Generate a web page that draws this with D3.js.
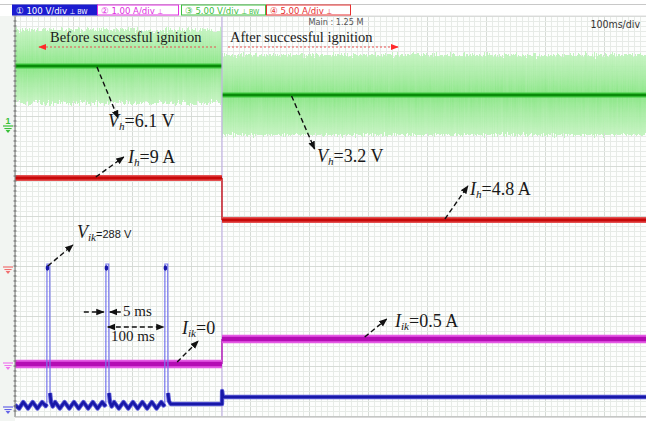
<!DOCTYPE html>
<html><head><meta charset="utf-8">
<script src="https://cdn.jsdelivr.net/npm/d3@7"></script>
<style>
html,body{margin:0;padding:0;background:#fff;}
svg{display:block;}
</style></head><body>
<svg id="scope" width="646" height="421"></svg>
<script>
// ---- scope settings and readings ----
const channelTags = ["\u2460 100 V/div", "\u2461 1.00 A/div", "\u2462 5.00 V/div", "\u2463 5.00 A/div"];
const channelSuffix = ["\u22A5 BW", "\u22A5", "\u22A5 BW", "\u22A5"];
const phaseLabels = ["Before successful ignition", "After successful ignition"];
const sweepInfo = ["Main : 1.25 M", "100ms/div"];

const ignitionTime = 351;            // ms, discharge established
const sweepEnd = 1070;               // ms visible on screen
const vhLevel = [6.1, 3.2];          // heater voltage, V (CH3)
const vhRippleLow = [2.4, -0.8];     // ripple envelope, V
const vhRippleHigh = [9.7, 7.2];     // ripple envelope, V
const ihLevel = [9, 4.8];            // heater current, A (CH4)
const iikLevel = [0, 0.5];           // keeper current, A (CH2)
const vikPeak = 288;                 // keeper pulse peak, V (CH1)
const pulseTimes = [54, 154, 254];   // ms
const pulseWidth = 5;                // ms
const pulsePeriod = 100;             // ms

// keeper voltage, CH1 [ms, V]
const vikTrace = [
  [0, 6], [7, -1], [14, 12], [22, -1], [30, 12], [38, -1], [46, 12], [52, 4],
  [54, 8], [54.2, 288], [59, 288], [59.4, 30], [61, 12], [64, 3],
  [68, 12], [76, -1], [84, 12], [92, -1], [100, 12], [108, -1], [116, 12],
  [124, -1], [132, 12], [140, -1], [148, 12], [152, 5],
  [154, 8], [154.2, 288], [159, 288], [159.4, 30], [161, 12], [164, 3],
  [168, 12], [176, -1], [184, 12], [192, -1], [200, 12], [208, -1], [216, 12],
  [224, -1], [232, 12], [240, -1], [248, 12], [252, 5],
  [254, 8], [254.2, 288], [259, 288], [259.4, 30], [261, 14], [264, 8],
  [351, 8], [351.2, 34], [352.5, 22], [1070, 22]
];

// ---- layout ----
const W = 646, H = 421;
const plot = {left: 15, right: 646, top: 16, bottom: 416};
const svg = d3.select("#scope");

const x = d3.scaleLinear().domain([0, sweepEnd]).range([plot.left, plot.right]);
const divY = d3.scaleLinear().domain([4, -4]).range([plot.top, plot.bottom]);
// each channel: volts (amps) per division and ground marker position in divisions
function channelScale(perDiv, groundDiv) {
  return d3.scaleLinear()
    .domain([-(4 + groundDiv) * perDiv, (4 - groundDiv) * perDiv])
    .range([plot.bottom, plot.top]);
}
const yVik = channelScale(100, -3.84);
const yIik = channelScale(1, -2.96);
const yVh  = channelScale(5, 1.78);
const yIh  = channelScale(5, -1.04);

const defs = svg.append("defs");

// backgrounds
svg.append("rect").attr("width", W).attr("height", H).attr("fill", "#ffffff");
svg.append("rect").attr("x", 0).attr("y", plot.top).attr("width", plot.left).attr("height", H - plot.top)
  .attr("fill", "#f2f5f2");
svg.append("rect").attr("x", plot.left).attr("y", plot.top)
  .attr("width", plot.right - plot.left).attr("height", plot.bottom - plot.top).attr("fill", "#fdfefd");

// graticule
const grid = svg.append("g");
d3.range(0, sweepEnd + 1, 10).forEach(t => {
  const major = t % 100 === 0;
  grid.append("line").attr("x1", x(t)).attr("x2", x(t)).attr("y1", plot.top).attr("y2", plot.bottom)
    .attr("stroke", major ? "#d6dbd6" : "#e7ebe7").attr("stroke-width", 1).attr("shape-rendering", "crispEdges");
});
d3.range(-40, 41, 1).forEach(k => {
  const d = k / 10;
  grid.append("line").attr("x1", plot.left).attr("x2", plot.right).attr("y1", divY(d)).attr("y2", divY(d))
    .attr("stroke", k % 10 === 0 ? "#d6dbd6" : "#e7ebe7").attr("stroke-width", 1).attr("shape-rendering", "crispEdges");
});

// ---- CH3 heater voltage with ripple band ----
const band = defs.append("linearGradient").attr("id", "bandFill").attr("x1", 0).attr("x2", 0).attr("y1", 0).attr("y2", 1);
[[0, "#c4f4c0"], [0.3, "#a4eca0"], [0.5, "#88e684"], [0.7, "#a4eca0"], [1, "#c4f4c0"]]
  .forEach(([o, c]) => band.append("stop").attr("offset", o).attr("stop-color", c));
const ragged = defs.append("filter").attr("id", "ragged")
  .attr("x", "-2%").attr("y", "-30%").attr("width", "104%").attr("height", "160%");
ragged.append("feTurbulence").attr("type", "fractalNoise").attr("baseFrequency", "0.9 0.015")
  .attr("numOctaves", 2).attr("seed", 4).attr("result", "noise");
ragged.append("feColorMatrix").attr("in", "noise").attr("type", "matrix")
  .attr("values", "0 0 0 0 0.5  0 1 0 0 0  0 0 1 0 0  0 0 0 0 1").attr("result", "shift");
ragged.append("feDisplacementMap").attr("in", "SourceGraphic").attr("in2", "shift")
  .attr("scale", 12).attr("xChannelSelector", "R").attr("yChannelSelector", "G");

const phaseSpan = [[0, ignitionTime], [ignitionTime, sweepEnd]];
const vhG = svg.append("g");
phaseSpan.forEach(([t0, t1], i) => {
  vhG.append("rect").attr("x", x(t0)).attr("width", x(t1) - x(t0))
    .attr("y", yVh(vhRippleHigh[i])).attr("height", yVh(vhRippleLow[i]) - yVh(vhRippleHigh[i]))
    .attr("fill", "url(#bandFill)").attr("opacity", 0.95).attr("filter", "url(#ragged)");
});
phaseSpan.forEach(([t0, t1], i) => {
  vhG.append("line").attr("x1", x(t0)).attr("x2", x(t1)).attr("y1", yVh(vhLevel[i])).attr("y2", yVh(vhLevel[i]))
    .attr("stroke", "#3cc83c").attr("stroke-width", 5);
  vhG.append("line").attr("x1", x(t0)).attr("x2", x(t1)).attr("y1", yVh(vhLevel[i])).attr("y2", yVh(vhLevel[i]))
    .attr("stroke", "#0a8a0a").attr("stroke-width", 2.6);
});

// transition marker line
svg.append("line").attr("x1", x(ignitionTime)).attr("x2", x(ignitionTime))
  .attr("y1", plot.top).attr("y2", plot.bottom).attr("stroke", "#c2b2e4").attr("stroke-width", 1.2);

// helper for stepped level traces: thick plateaus, thin edge
function levelTrace(scale, levels, outer, core, wOuter, wCore) {
  const g = svg.append("g");
  g.append("line").attr("x1", x(ignitionTime)).attr("x2", x(ignitionTime))
    .attr("y1", scale(levels[0])).attr("y2", scale(levels[1])).attr("stroke", core).attr("stroke-width", 1.3);
  phaseSpan.forEach(([t0, t1], i) => {
    g.append("line").attr("x1", x(t0)).attr("x2", x(t1)).attr("y1", scale(levels[i])).attr("y2", scale(levels[i]))
      .attr("stroke", outer).attr("stroke-width", wOuter);
    g.append("line").attr("x1", x(t0)).attr("x2", x(t1)).attr("y1", scale(levels[i])).attr("y2", scale(levels[i]))
      .attr("stroke", core).attr("stroke-width", wCore);
  });
}
levelTrace(yIh, ihLevel, "#e45050", "#c80808", 6, 3);
levelTrace(yIik, iikLevel, "#e45ae4", "#b40cb4", 8.5, 4.5);

// ---- CH1 keeper voltage ----
const lineVik = d3.line().x(d => x(d[0])).y(d => yVik(d[1]));
svg.append("path").attr("d", lineVik(vikTrace)).attr("fill", "none")
  .attr("stroke", "#7474ec").attr("stroke-width", 1.2);
const slow = d3.line().defined(d => d[1] < 100).x(d => x(d[0])).y(d => yVik(d[1]));
svg.append("path").attr("d", slow(vikTrace)).attr("fill", "none")
  .attr("stroke", "#5a5ad6").attr("stroke-width", 4.4).attr("stroke-linejoin", "round");
svg.append("path").attr("d", slow(vikTrace)).attr("fill", "none")
  .attr("stroke", "#1818a8").attr("stroke-width", 2.6).attr("stroke-linejoin", "round");
pulseTimes.forEach(t => {
  svg.append("ellipse").attr("cx", x(t) + 0.6).attr("cy", yVik(vikPeak) + 4).attr("rx", 1.8).attr("ry", 2.8)
    .attr("fill", "#1818a8");
});

// ---- frame ----
svg.append("line").attr("x1", plot.left).attr("x2", plot.left).attr("y1", plot.top).attr("y2", plot.bottom + 1)
  .attr("stroke", "#8c8c8c").attr("stroke-width", 1.2);
d3.range(plot.top, plot.bottom, 5).forEach(yy => {
  svg.append("line").attr("x1", plot.left - 1.5).attr("x2", plot.left + 1.5).attr("y1", yy).attr("y2", yy)
    .attr("stroke", "#6a6a6a").attr("stroke-width", 1);
});
svg.append("line").attr("x1", plot.left).attr("x2", plot.right).attr("y1", plot.bottom + 1).attr("y2", plot.bottom + 1)
  .attr("stroke", "#b4b4b4").attr("stroke-width", 1.2);
svg.append("line").attr("x1", plot.left - 3).attr("x2", plot.right).attr("y1", plot.top).attr("y2", plot.top)
  .attr("stroke", "#dcdcdc").attr("stroke-width", 1);

// ground markers
function groundMark(scale, color, label) {
  const y0 = scale(0);
  const g = svg.append("g").attr("fill", color).attr("stroke", color);
  g.append("line").attr("x1", 3).attr("x2", 13).attr("y1", y0 - 1).attr("y2", y0 - 1).attr("stroke-width", 1.2);
  g.append("path").attr("d", `M4,${y0 + 1}L12,${y0 + 1}L8,${y0 + 6}Z`).attr("stroke", "none");
  g.append("line").attr("x1", 5).attr("x2", 11).attr("y1", y0 + 2.5).attr("y2", y0 + 2.5)
    .attr("stroke", "#fff").attr("stroke-width", 0.8);
  if (label) {
    g.append("text").attr("x", 8).attr("y", y0 - 3).attr("text-anchor", "middle")
      .attr("font-family", "Liberation Sans").attr("font-size", 9).attr("font-weight", "bold")
      .attr("stroke", "none").text(label);
  }
}
groundMark(yVh, "#38c038", "1");
groundMark(yIh, "#f07070");
groundMark(yIik, "#ee78ee");
groundMark(yVik, "#6464e6");

// ---- header ----
svg.append("line").attr("x1", 0).attr("x2", W).attr("y1", 4.5).attr("y2", 4.5).attr("stroke", "#c8c8c8");
const tagBoxes = [
  {x: 12, w: 85, fill: "#1c1cd0", stroke: "#1c1cd0", text: "#ffffff"},
  {x: 97, w: 81, fill: "#ffffff", stroke: "#e030e0", text: "#e030e0"},
  {x: 181, w: 84, fill: "#ffffff", stroke: "#40c040", text: "#40c040"},
  {x: 266, w: 84, fill: "#ffffff", stroke: "#e83030", text: "#e83030"}
];
tagBoxes.forEach((b, i) => {
  svg.append("rect").attr("x", b.x + 0.5).attr("y", 5).attr("width", b.w).attr("height", 10)
    .attr("fill", b.fill).attr("stroke", b.stroke).attr("stroke-width", 1);
  const t = svg.append("text").attr("x", b.x + 4).attr("y", 13.5)
    .attr("font-family", "Liberation Sans Narrow, DejaVu Sans Condensed, sans-serif")
    .attr("font-size", 9.5).attr("fill", b.text);
  t.append("tspan").text(channelTags[i] + " ");
  t.append("tspan").attr("font-size", 7).text(channelSuffix[i]);
});
svg.append("text").attr("x", 336).attr("y", 25).attr("text-anchor", "middle")
  .attr("font-family", "Liberation Sans Narrow, DejaVu Sans Condensed, sans-serif")
  .attr("font-size", 9).attr("fill", "#555").text(sweepInfo[0]);
svg.append("text").attr("x", 640).attr("y", 28).attr("text-anchor", "end")
  .attr("font-family", "Liberation Sans Narrow, DejaVu Sans Condensed, sans-serif")
  .attr("font-size", 10.5).attr("fill", "#333").text(sweepInfo[1]);

// ---- annotations ----
const serif = "Liberation Serif, Times New Roman, serif";
defs.append("marker").attr("id", "headK").attr("viewBox", "0 0 10 10").attr("refX", 9).attr("refY", 5)
  .attr("markerWidth", 6).attr("markerHeight", 6).attr("orient", "auto-start-reverse")
  .append("path").attr("d", "M0,1L10,5L0,9Z").attr("fill", "#111");
defs.append("marker").attr("id", "headR").attr("viewBox", "0 0 10 10").attr("refX", 9).attr("refY", 5)
  .attr("markerWidth", 8).attr("markerHeight", 8).attr("markerUnits", "userSpaceOnUse").attr("orient", "auto")
  .append("path").attr("d", "M0,1L10,5L0,9Z").attr("fill", "#ff2a2a");

// phase captions
svg.append("text").attr("x", 50).attr("y", 42).attr("font-family", serif).attr("font-size", 14.5)
  .attr("fill", "#1a1a1a").text(phaseLabels[0]);
svg.append("text").attr("x", 230).attr("y", 42).attr("font-family", serif).attr("font-size", 14.5)
  .attr("fill", "#1a1a1a").text(phaseLabels[1]);
svg.append("line").attr("x1", x(ignitionTime) - 6).attr("x2", 39).attr("y1", 47).attr("y2", 47)
  .attr("stroke", "#e85050").attr("stroke-width", 1).attr("stroke-dasharray", "2,2").attr("marker-end", "url(#headR)");
svg.append("line").attr("x1", x(ignitionTime) + 6).attr("x2", 398).attr("y1", 47).attr("y2", 47)
  .attr("stroke", "#e85050").attr("stroke-width", 1).attr("stroke-dasharray", "2,2").attr("marker-end", "url(#headR)");

function arrow(x1, y1, x2, y2, both) {
  const l = svg.append("line").attr("x1", x1).attr("y1", y1).attr("x2", x2).attr("y2", y2)
    .attr("stroke", "#111").attr("stroke-width", 1.4).attr("stroke-dasharray", "5,3")
    .attr("marker-end", "url(#headK)");
  if (both) l.attr("marker-start", "url(#headK)");
}
function quantity(xp, yp, main, sub, rest, size, restSize, restFont) {
  const t = svg.append("text").attr("x", xp).attr("y", yp).attr("font-family", serif)
    .attr("font-size", size).attr("fill", "#1a1a1a");
  t.append("tspan").attr("font-style", "italic").text(main);
  t.append("tspan").attr("font-style", "italic").attr("font-size", size * 0.62).attr("dy", 3).text(sub);
  t.append("tspan").attr("dy", -3).attr("font-size", restSize || size)
    .attr("font-family", restFont || serif).text(rest);
}

// V_h before
arrow(x(139), yVh(vhLevel[0]) + 1, x(139) + 21, yVh(vhLevel[0]) + 52);
quantity(108, 127, "V", "h", "=" + vhLevel[0] + " V", 18);
// I_h before
arrow(x(137), yIh(ihLevel[0]) - 1, x(137) + 28, yIh(ihLevel[0]) - 21);
quantity(128, 163, "I", "h", "=" + ihLevel[0] + " A", 18);
// V_h after
arrow(x(469), yVh(vhLevel[1]) + 1, x(469) + 23, yVh(vhLevel[1]) + 54);
quantity(317, 162, "V", "h", "=" + vhLevel[1] + " V", 18);
// I_h after
arrow(x(729), yIh(ihLevel[1]) - 1, x(729) + 23, yIh(ihLevel[1]) - 34);
quantity(470, 195, "I", "h", "=" + ihLevel[1] + " A", 18);
// I_ik after
arrow(x(593), yIik(iikLevel[1]) - 2, x(593) + 22, yIik(iikLevel[1]) - 20);
quantity(395, 327, "I", "ik", "=" + iikLevel[1] + " A", 18);
// I_ik before
arrow(x(275), yIik(iikLevel[0]) - 2, x(275) + 21, yIik(iikLevel[0]) - 23);
quantity(182, 334, "I", "ik", "=" + iikLevel[0], 18);
// V_ik peak
arrow(x(pulseTimes[0]) + 1, yVik(vikPeak) + 2, x(pulseTimes[0]) + 26, yVik(vikPeak) - 19);
quantity(77, 238, "V", "ik", "=" + vikPeak + " V", 18, 11, "Liberation Sans, Arial, sans-serif");
// pulse width
arrow(x(pulseTimes[1]) - 22, 312, x(pulseTimes[1]) - 2, 312);
arrow(x(pulseTimes[1] + pulseWidth) + 12, 312, x(pulseTimes[1] + pulseWidth) + 1, 312);
svg.append("text").attr("x", 123).attr("y", 316).attr("font-family", serif).attr("font-size", 15)
  .attr("fill", "#1a1a1a").text(pulseWidth + " ms");
// pulse period
arrow(x(pulseTimes[1]) + 2, 327, x(pulseTimes[2]) - 1, 327, true);
svg.append("text").attr("x", 111).attr("y", 341).attr("font-family", serif).attr("font-size", 15)
  .attr("fill", "#1a1a1a").text(pulsePeriod + " ms");
</script>
</body></html>
